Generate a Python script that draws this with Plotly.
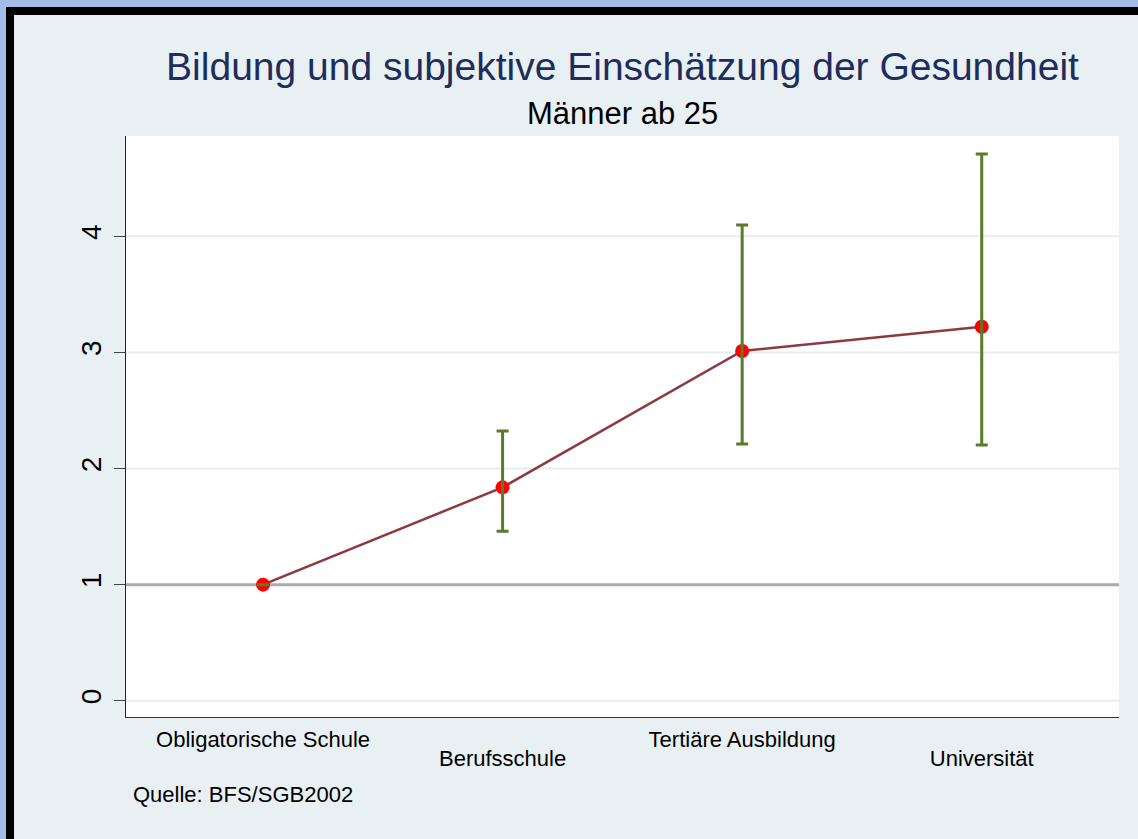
import plotly.graph_objects as go

# ---- data ----
categories = ["Obligatorische Schule", "Berufsschule", "Tertiäre Ausbildung", "Universität"]
means = [1.0, 1.838, 3.012, 3.221]
lower = [1.0, 1.459, 2.211, 2.202]
upper = [1.0, 2.323, 4.097, 4.709]
y_ticks = [0, 1, 2, 3, 4]
ref_line = 1
title_text = "Bildung und subjektive Einschätzung der Gesundheit"
subtitle_text = "Männer ab 25"
source_text = "Quelle: BFS/SGB2002"

# ---- layout geometry (pixels) ----
W, H = 1138, 839
L, R, T, B = 126, 19, 136, 122
PW, PH = W - L - R, H - T - B

def px(x):
    return (x - L) / PW

def py(y):
    return (H - B - y) / PH

FONT = "Arial, Liberation Sans, sans-serif"
BG = "#e9f0f3"
xpos = list(range(len(categories)))
even = [i for i in xpos if i % 2 == 0]
odd = [i for i in xpos if i % 2 == 1]

fig = go.Figure()
fig.add_trace(go.Scatter(
    x=xpos, y=means, mode="lines+markers",
    line=dict(color="#8c3a40", width=2.5),
    marker=dict(color="#ff0000", size=14),
    showlegend=False, hoverinfo="skip"))
fig.add_trace(go.Scatter(
    x=xpos, y=means, mode="markers",
    marker=dict(size=1, color="rgba(0,0,0,0)"),
    error_y=dict(type="data", symmetric=False,
                 array=[u - m for u, m in zip(upper, means)],
                 arrayminus=[m - l for m, l in zip(means, lower)],
                 color="#5a7a2c", thickness=3, width=6),
    showlegend=False, hoverinfo="skip"))
# invisible trace on second x-axis for staggered labels
fig.add_trace(go.Scatter(x=[odd[0]], y=[means[odd[0]]], xaxis="x2", mode="markers",
                         marker=dict(size=1, color="rgba(0,0,0,0)"), showlegend=False, hoverinfo="skip"))

grid_shapes = [
    dict(type="line", xref="paper", yref="y", x0=0, x1=1, y0=v, y1=v,
         line=dict(color="#e6eef1", width=2), layer="below")
    for v in y_ticks
]

xr = [-0.572, 3.573]
fig.update_layout(
    width=W, height=H,
    margin=dict(l=L, r=R, t=T, b=B, pad=0),
    paper_bgcolor=BG, plot_bgcolor="#ffffff",
    font=dict(family=FONT, size=22, color="#000000"),
    title=dict(text=title_text, x=(L + PW / 2) / W, xref="container", xanchor="center",
               y=1 - 66 / H, yref="container", yanchor="middle",
               font=dict(family=FONT, size=39, color="#1f2d5c")),
    xaxis=dict(range=xr, tickmode="array", tickvals=even,
               ticktext=[categories[i] for i in even],
               showgrid=False, zeroline=False, showline=True, linecolor="#333333",
               linewidth=1, ticks="", tickfont=dict(size=22, color="#000000"),
               ticklabelstandoff=3),
    xaxis2=dict(range=xr, overlaying="x", matches="x", side="bottom", tickmode="array",
                tickvals=odd, ticktext=[categories[i] for i in odd],
                showgrid=False, zeroline=False, showline=False, ticks="",
                tickfont=dict(size=22, color="#000000"), ticklabelstandoff=26),
    yaxis=dict(range=[-0.140, 4.864], tickmode="array", tickvals=y_ticks,
               ticktext=[str(v) for v in y_ticks], tickangle=-90,
               showgrid=False, zeroline=False,
               showline=True, linecolor="#222222", linewidth=1,
               ticks="outside", ticklen=11, tickcolor="#444444", tickwidth=1,
               tickfont=dict(size=28, color="#000000"), ticklabelstandoff=2),
    annotations=[
        dict(text=subtitle_text, xref="paper", yref="paper", x=0.5, y=py(114),
             xanchor="center", yanchor="middle", showarrow=False,
             font=dict(family=FONT, size=31, color="#000000")),
        dict(text=source_text, xref="paper", yref="paper", x=px(131), y=py(794),
             xanchor="left", yanchor="middle", showarrow=False,
             font=dict(family=FONT, size=22, color="#000000")),
    ],
    shapes=grid_shapes + [
        dict(type="line", xref="paper", yref="y", x0=0, x1=1, y0=ref_line, y1=ref_line,
             line=dict(color="#aaaaaa", width=3), layer="below"),
        # outer frame strips
        dict(type="rect", xref="paper", yref="paper", x0=px(0), x1=px(W), y0=py(0), y1=py(7),
             fillcolor="#a4bde6", line=dict(width=0), layer="above"),
        dict(type="rect", xref="paper", yref="paper", x0=px(0), x1=px(6), y0=py(0), y1=py(H),
             fillcolor="#a4bde6", line=dict(width=0), layer="above"),
        dict(type="rect", xref="paper", yref="paper", x0=px(6), x1=px(W), y0=py(7), y1=py(15),
             fillcolor="#000000", line=dict(width=0), layer="above"),
        dict(type="rect", xref="paper", yref="paper", x0=px(6), x1=px(14), y0=py(7), y1=py(H),
             fillcolor="#000000", line=dict(width=0), layer="above"),
    ],
)

fig.write_html(
    "out.html",
    config={"displayModeBar": False},
    post_script="document.body.style.margin='0';document.body.style.padding='0';"
                "document.body.style.overflow='hidden';",
)
